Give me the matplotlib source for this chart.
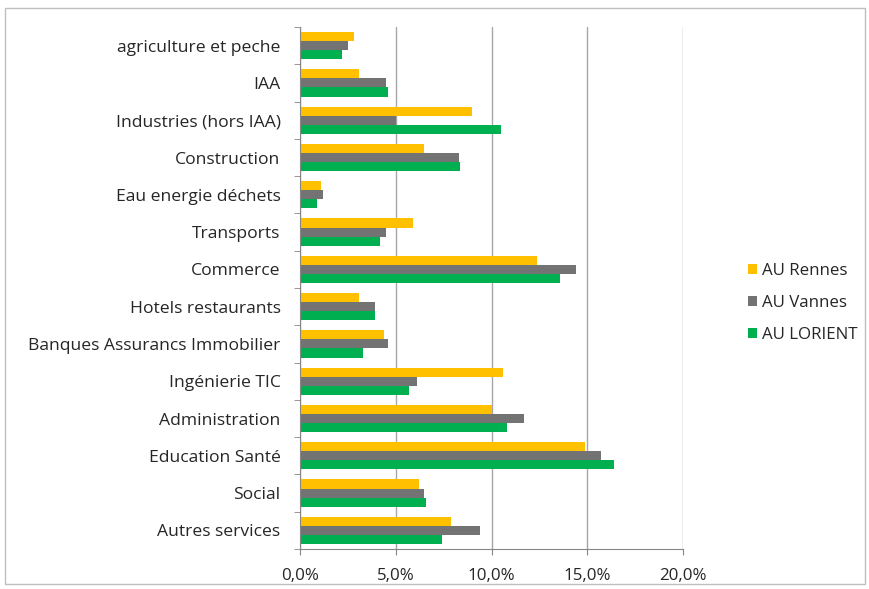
import matplotlib
matplotlib.use("Agg")
import matplotlib.pyplot as plt
from matplotlib.patches import Rectangle
from matplotlib.ticker import FuncFormatter, FixedLocator
import numpy as np

categories = ["agriculture et peche", "IAA", "Industries (hors IAA)", "Construction",
              "Eau energie déchets", "Transports", "Commerce", "Hotels restaurants",
              "Banques Assurancs Immobilier", "Ingénierie TIC", "Administration",
              "Education Santé", "Social", "Autres services"]
rennes = [2.8, 3.1, 9.0, 6.5, 1.1, 5.9, 12.4, 3.1, 4.4, 10.6, 10.0, 14.9, 6.2, 7.9]
vannes = [2.5, 4.5, 5.0, 8.3, 1.2, 4.5, 14.4, 3.9, 4.6, 6.1, 11.7, 15.7, 6.5, 9.4]
lorient = [2.2, 4.6, 10.5, 8.35, 0.9, 4.2, 13.6, 3.9, 3.3, 5.7, 10.8, 16.4, 6.6, 7.4]
series_names = ["AU Rennes", "AU Vannes", "AU LORIENT"]
colors = ["#FFC000", "#737373", "#00B050"]
xticks = [0, 5, 10, 15, 20]

plt.rcParams['font.family'] = ['Open Sans', 'DejaVu Sans']

fig = plt.figure(figsize=(8.7, 5.89), dpi=100)
fig.patches.append(Rectangle((0.006, 0.008), 0.988, 0.978, transform=fig.transFigure,
                             fill=False, edgecolor="#BFBFBF", linewidth=1))
ax = fig.add_axes([300/870, 1-549/589, 383/870, 522/589])

n = len(categories)
y = np.arange(n)
h = 0.245
for i, (vals, name, c) in enumerate(zip([rennes, vannes, lorient], series_names, colors)):
    ax.barh(y + (i - 1) * h, vals, height=h, color=c, label=name)

ax.set_ylim(n - 0.5, -0.5)
ax.set_xlim(0, 20)
ax.set_yticks(y)
ax.set_yticklabels(categories, fontsize=12.6, color="#262626")
ax.yaxis.set_minor_locator(FixedLocator(np.arange(-0.5, n, 1)))
ax.tick_params(axis='y', which='major', length=0, pad=14)
ax.tick_params(axis='y', which='minor', length=4, color="#868686")
ax.xaxis.set_major_locator(FixedLocator(xticks))
ax.xaxis.set_major_formatter(FuncFormatter(lambda v, p: f"{v:.1f}%".replace(".", ",")))
ax.tick_params(axis='x', labelsize=12.2, length=4, color="#868686", labelcolor="#262626", pad=10)
ax.grid(axis='x', color="#A6A6A6", linewidth=1)
ax.set_axisbelow(True)
for s in ["top", "right"]:
    ax.spines[s].set_visible(False)
for s in ["left", "bottom"]:
    ax.spines[s].set_color("#868686")

leg = fig.legend(loc="center left", bbox_to_anchor=(733/870, 1-303/589), frameon=False,
                 fontsize=12.2, handlelength=0.5, handleheight=0.5, handletextpad=0.3,
                 labelspacing=0.95)
for t in leg.get_texts():
    t.set_color("#262626")

fig.savefig("out.png", dpi=100)
